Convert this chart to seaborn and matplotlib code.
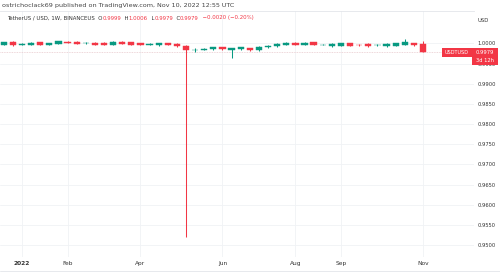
import numpy as np
import pandas as pd
import matplotlib
matplotlib.use("Agg")
import matplotlib.pyplot as plt
import matplotlib.dates as mdates
from matplotlib.patches import Rectangle
import seaborn as sns

# ---------------- data ----------------
weeks = pd.date_range("2021-12-20", periods=47, freq="7D")
opens = [0.9997, 1.0004, 0.9996, 0.9996, 1.0003, 0.9997, 0.9999, 1.0004, 1.0004, 1.0000,
         1.0002, 1.0002, 0.9996, 1.0004, 1.0003, 1.0001, 0.9997, 0.9995, 1.0001, 0.9999,
         0.9994, 0.9983, 0.9985, 0.9986, 0.9991, 0.9983, 0.9986, 0.9989, 0.9983, 0.9991,
         0.9993, 0.9996, 1.0002, 0.9996, 1.0003, 0.9996, 0.9993, 0.9994, 1.0000, 0.9997,
         0.9999, 0.9995, 0.9993, 0.9994, 0.9997, 1.0001, 0.9999]
highs = [1.0004, 1.0005, 1.0000, 1.0003, 1.0004, 1.0002, 1.0006, 1.0007, 1.0005, 1.0003,
         1.0003, 1.0003, 1.0005, 1.0005, 1.0004, 1.0002, 1.0000, 1.0001, 1.0002, 1.0000,
         0.9996, 0.9988, 0.9988, 0.9992, 0.9992, 0.9990, 0.9992, 0.9990, 0.9993, 0.9995,
         1.0000, 1.0003, 1.0003, 1.0003, 1.0004, 0.9998, 1.0000, 1.0001, 1.0001, 0.9998,
         1.0000, 0.9998, 1.0000, 1.0001, 1.0011, 1.0002, 1.0006]
lows = [0.9996, 0.9994, 0.9995, 0.9995, 0.9996, 0.9996, 0.9998, 1.0001, 0.9998, 0.9999,
        0.9995, 0.9995, 0.9995, 0.9998, 0.9996, 0.9996, 0.9996, 0.9994, 0.9995, 0.9992,
        0.9520, 0.9980, 0.9984, 0.9985, 0.9985, 0.9963, 0.9985, 0.9982, 0.9982, 0.9990,
        0.9992, 0.9995, 0.9995, 0.9995, 0.9996, 0.9995, 0.9992, 0.9993, 0.9993, 0.9994,
        0.9992, 0.9994, 0.9992, 0.9993, 0.9996, 0.9994, 0.9979]
closes = [1.0003, 0.9995, 0.9999, 1.0002, 0.9997, 1.0000, 1.0005, 1.0002, 0.9999, 1.0002,
          0.9996, 0.9996, 1.0004, 0.9999, 0.9997, 0.9997, 0.9999, 1.0000, 0.9996, 0.9993,
          0.9984, 0.9985, 0.9987, 0.9991, 0.9986, 0.9989, 0.9991, 0.9983, 0.9992, 0.9994,
          0.9999, 1.0002, 0.9996, 1.0002, 0.9997, 0.9997, 0.9999, 1.0000, 0.9994, 0.9995,
          0.9993, 0.9997, 0.9999, 1.0000, 1.0003, 0.9995, 0.9979]

tick_dates = ["2022-01-03", "2022-02-07", "2022-04-04", "2022-06-06",
              "2022-08-01", "2022-09-05", "2022-11-07"]
tick_labels = ["2022", "Feb", "Apr", "Jun", "Aug", "Sep", "Nov"]
price_ticks = [0.9500, 0.9550, 0.9600, 0.9650, 0.9700, 0.9750,
               0.9800, 0.9850, 0.9900, 0.9950, 1.0000]

df = pd.DataFrame({"date": weeks, "open": opens, "high": highs,
                   "low": lows, "close": closes})

# ---------------- style ----------------
sns.set_theme(style="white")
plt.rcParams["font.family"] = ["DejaVu Sans"]

GREEN = "#089981"
RED = "#f23645"
GRID = "#f0f2f5"

W, H = 500, 273
fig = plt.figure(figsize=(W / 100, H / 100), dpi=100)
fig.patch.set_facecolor("white")

def fx(x):
    return x / W

def fy(y):
    return 1 - y / H

ax_l, ax_r, ax_t, ax_b = 0, 474, 11, 257
ax = fig.add_axes([fx(ax_l), fy(ax_b), (ax_r - ax_l) / W, (ax_b - ax_t) / H])
ax.set_facecolor("white")

x = mdates.date2num(df["date"])
up = df["close"] >= df["open"]
colors = np.where(up, GREEN, RED)
body_bottom = np.minimum(df["open"], df["close"])
body_h = np.abs(df["close"] - df["open"])

ax.vlines(x, df["low"], df["high"], colors=colors, linewidth=0.75, zorder=3)
ax.bar(x, body_h, bottom=body_bottom, width=4.8, color=colors,
       edgecolor=colors, linewidth=0.3, zorder=4)

# current price dotted line
ax.axhline(closes[-1], color="#e9c9cd", linewidth=0.6, linestyle=(0, (1, 1)), zorder=1)

# axes scaling
x0 = mdates.date2num(pd.Timestamp("2022-01-03"))
ax.set_xlim(x0 - 16.9, x0 + 347.2)
ax.set_ylim(0.94702, 1.00806)

ax.set_xticks(mdates.date2num(pd.to_datetime(tick_dates)))
ax.set_xticklabels(tick_labels)
for lbl in ax.get_xticklabels():
    if lbl.get_text() == "2022":
        lbl.set_fontweight("bold")
ax.tick_params(axis="x", length=0, pad=3, labelsize=4.2, colors="#333333")

ax.yaxis.tick_right()
ax.set_yticks(price_ticks)
ax.set_yticklabels([f"{v:.4f}" for v in price_ticks])
ax.tick_params(axis="y", length=0, pad=2.5, labelsize=3.7, colors="#333333")

ax.grid(True, color=GRID, linewidth=0.6)
ax.set_axisbelow(True)
for s in ["left", "right", "bottom"]:
    ax.spines[s].set_visible(False)
ax.spines["top"].set_color("#e3e5ea")
ax.spines["top"].set_linewidth(0.6)

# bottom border line
fig.add_artist(plt.Line2D([0, 1], [fy(271), fy(271)], color="#e3e5ea",
                          linewidth=0.6, transform=fig.transFigure))

# ---------------- header texts ----------------
fig.text(fx(2), fy(6), "ostrichoclack69 published on TradingView.com, Nov 10, 2022 12:55 UTC",
         fontsize=4.55, color="#444444", va="center", ha="left")

renderer = fig.canvas.get_renderer()

def rich(xp, yp, parts, fs):
    for s, col in parts:
        t = fig.text(fx(xp), fy(yp), s, color=col, fontsize=fs, va="center", ha="left")
        bb = t.get_window_extent(renderer=renderer)
        xp += bb.width

DARK = "#333333"
rich(7, 18, [("TetherUS / USD, 1W, BINANCEUS  O", DARK), ("0.9999", RED),
             ("  H", DARK), ("1.0006", RED), ("  L", DARK), ("0.9979", RED),
             ("  C", DARK), ("0.9979", RED), ("  \u22120.0020 (\u22120.20%)", RED)], 3.9)

fig.text(fx(483), fy(21), "USD", fontsize=3.8, color=DARK, va="center", ha="center")

# ---------------- last price label ----------------
fig.add_artist(Rectangle((fx(442), fy(57)), (472 - 442) / W, 9 / H, facecolor=RED,
                         edgecolor="none", transform=fig.transFigure, zorder=5))
fig.add_artist(Rectangle((fx(472), fy(57)), (498 - 472) / W, 9 / H, facecolor=RED,
                         edgecolor="none", transform=fig.transFigure, zorder=5))
fig.add_artist(Rectangle((fx(472), fy(65)), (498 - 472) / W, 8 / H, facecolor=RED,
                         edgecolor="none", transform=fig.transFigure, zorder=5))
fig.text(fx(457), fy(52.5), "USDTUSD", fontsize=3.6, color="white", ha="center",
         va="center", zorder=6)
fig.text(fx(485), fy(52.5), f"{closes[-1]:.4f}", fontsize=3.7, color="white", ha="center",
         va="center", zorder=6)
fig.text(fx(485), fy(61), "3d 12h", fontsize=3.7, color="white", ha="center",
         va="center", zorder=6)

fig.savefig("out.png", dpi=100, facecolor="white")
